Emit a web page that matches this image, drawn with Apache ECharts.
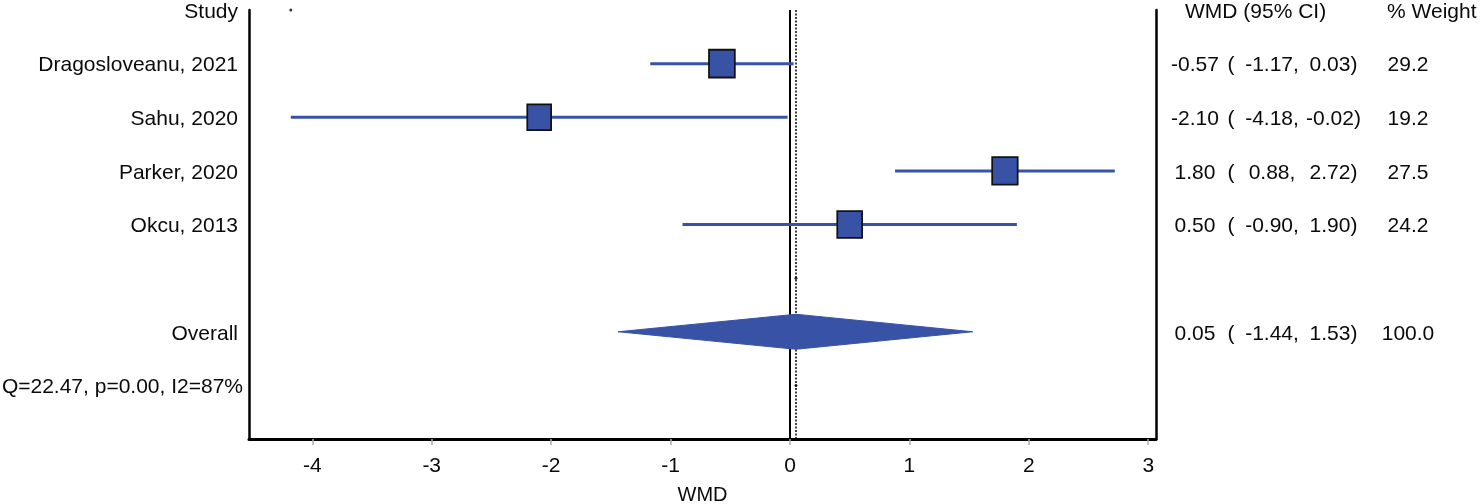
<!DOCTYPE html>
<html>
<head>
<meta charset="utf-8">
<script src="https://cdn.jsdelivr.net/npm/echarts@6/dist/echarts.min.js"></script>
<style>
  html, body { margin: 0; padding: 0; background: #fff; }
  #forest { width: 1480px; height: 504px; }
</style>
</head>
<body>
<div id="forest"></div>
<script>
// values
const studies = ['Dragosloveanu, 2021', 'Sahu, 2020', 'Parker, 2020', 'Okcu, 2013'];
const wmd = [-0.57, -2.10, 1.80, 0.50];
const ciLow = [-1.17, -4.18, 0.88, -0.90];
const ciHigh = [0.03, -0.02, 2.72, 1.90];
const weights = [29.2, 19.2, 27.5, 24.2];

const overallWmd = 0.05;
const overallLow = -1.44;
const overallHigh = 1.53;
const overallWeight = 100.0;
const heterogeneity = 'Q=22.47, p=0.00, I2=87%';

const xTicks = [-4, -3, -2, -1, 0, 1, 2, 3];
// stray dots left by the plotting program
const strayDots = [[-4.18, 'Study'], [0.05, 'blank'], [0.05, 'het']];

const FONT = 'Arial, "Liberation Sans", sans-serif';
const BLUE = '#3852a6';
const INK = '#0a0a0a';

// rows bottom -> top
const rowKeys = ['bottom', 'het', 'Overall', 'blank'].concat(studies.slice().reverse(), ['Study']);
const row = k => rowKeys.indexOf(k);
const leftLabel = k => {
  if (k === 'het') return '{q|' + heterogeneity + '}';
  if (k === 'bottom' || k === 'blank') return '';
  return '{n|' + k + '}';
};
const ciText = (e, lo, hi, w) =>
  '{e|' + e.toFixed(2) + '}{o|(}{lo|' + lo.toFixed(2) + ',}{hi|' + hi.toFixed(2) + ')}{w|' + w.toFixed(1) + '}';
const rightLabel = k => {
  if (k === 'Study') return '{sp| }{h|WMD (95% CI)}{h2|% Weight}';
  if (k === 'Overall') return ciText(overallWmd, overallLow, overallHigh, overallWeight);
  const i = studies.indexOf(k);
  if (i >= 0) return ciText(wmd[i], ciLow[i], ciHigh[i], weights[i]);
  return '';
};

const ciData = studies.map((s, i) => [ciLow[i], ciHigh[i], row(s)]);
const boxData = studies.map((s, i) => ({ value: [wmd[i], row(s)], w: weights[i] }));
const dotData = strayDots.map(d => [d[0], row(d[1])]);

const txt = extra => Object.assign({ fontSize: 21, color: INK, fontFamily: FONT, padding: [4, 0, 0, 0] }, extra);

const chart = echarts.init(document.getElementById('forest'));
chart.setOption({
  backgroundColor: '#fff',
  animation: false,
  textStyle: { fontFamily: FONT },
  grid: { left: 249, right: 324, top: 10, bottom: 65, outerBoundsMode: 'none', containLabel: false },
  xAxis: {
    type: 'value',
    min: -4.53,
    max: 3.065,
    splitLine: { show: false },
    axisLine: { show: true, onZero: false, lineStyle: { color: '#000', width: 3 } },
    axisTick: { show: true, customValues: xTicks, length: 6, lineStyle: { color: '#aaa', width: 1.5 } },
    axisLabel: { customValues: xTicks, color: INK, fontSize: 21, margin: 17, fontFamily: FONT },
    name: 'WMD',
    nameLocation: 'middle',
    nameGap: 46,
    nameTextStyle: { color: INK, fontSize: 20, fontFamily: FONT }
  },
  yAxis: [{
    type: 'category',
    data: rowKeys,
    boundaryGap: false,
    position: 'left',
    axisLine: { show: true, onZero: false, lineStyle: { color: '#000', width: 2.5 } },
    axisTick: { show: false },
    splitLine: { show: false },
    axisLabel: {
      interval: 0,
      margin: 6,
      color: INK,
      fontSize: 21,
      fontFamily: FONT,
      formatter: leftLabel,
      rich: {
        n: txt({ padding: [4, 5, 0, 0] }),
        q: txt({ padding: [4, 0, 0, 0] })
      }
    }
  }, {
    type: 'category',
    data: rowKeys,
    boundaryGap: false,
    position: 'right',
    axisLine: { show: true, onZero: false, lineStyle: { color: '#000', width: 2.5 } },
    axisTick: { show: false },
    splitLine: { show: false },
    axisLabel: {
      interval: 0,
      margin: 14,
      color: INK,
      fontSize: 21,
      fontFamily: FONT,
      formatter: rightLabel,
      rich: {
        e: txt({ width: 50, align: 'right' }),
        o: txt({ width: 22, align: 'right' }),
        lo: txt({ width: 60, align: 'right' }),
        hi: txt({ width: 63, align: 'right' }),
        w: txt({ width: 86, align: 'center' }),
        sp: txt({ width: 15 }),
        h: txt({ width: 202, align: 'left' }),
        h2: txt({ align: 'left' })
      }
    }
  }],
  series: [{
    // confidence interval whiskers
    type: 'custom',
    yAxisIndex: 0,
    z: 3,
    data: ciData,
    renderItem: (params, api) => {
      const a = api.coord([api.value(0), api.value(2)]);
      const b = api.coord([api.value(1), api.value(2)]);
      return {
        type: 'line',
        shape: { x1: a[0], y1: a[1], x2: b[0], y2: b[1] },
        style: { stroke: BLUE, lineWidth: 3 }
      };
    }
  }, {
    // weighted boxes
    type: 'scatter',
    yAxisIndex: 0,
    z: 5,
    symbol: 'rect',
    symbolSize: (v, p) => {
      const s = 19 + 0.2 * p.data.w;
      return [s + 1, s + 3];
    },
    itemStyle: { color: BLUE, borderColor: '#111', borderWidth: 1.8, opacity: 1 },
    data: boxData,
    markLine: {
      silent: true,
      symbol: 'none',
      label: { show: false },
      z: 2,
      data: [
        { xAxis: 0, lineStyle: { color: '#000', width: 2, type: 'solid' } },
        { xAxis: overallWmd, lineStyle: { color: '#000', width: 1.5, type: [2, 1.5] } }
      ]
    }
  }, {
    // pooled estimate diamond
    type: 'custom',
    yAxisIndex: 0,
    z: 4,
    data: [[overallLow, overallWmd, overallHigh, row('Overall')]],
    renderItem: (params, api) => {
      const y = api.value(3);
      const l = api.coord([api.value(0), y]);
      const m = api.coord([api.value(1), y]);
      const r = api.coord([api.value(2), y]);
      const h = 17.5;
      return {
        type: 'polygon',
        shape: { points: [[l[0], l[1]], [m[0], m[1] - h], [r[0], r[1]], [m[0], m[1] + h]] },
        style: { fill: BLUE, stroke: BLUE, lineWidth: 1 }
      };
    }
  }, {
    type: 'scatter',
    yAxisIndex: 0,
    z: 6,
    symbol: 'circle',
    symbolSize: 3,
    itemStyle: { color: '#000' },
    data: dotData
  }]
});
</script>
</body>
</html>
